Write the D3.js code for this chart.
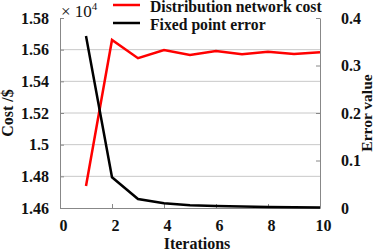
<!DOCTYPE html>
<html>
<head>
<meta charset="utf-8">
<script src="https://cdn.jsdelivr.net/npm/d3@7"></script>
<style>
  body { margin: 0; background: #fff; }
  text { font-family: "Liberation Serif", "Times New Roman", serif; font-weight: bold; }
</style>
</head>
<body>
<div id="chart"></div>
<script>
// data
const iterations = [1, 2, 3, 4, 5, 6, 7, 8, 9, 10];
const networkCost = [1.4739, 1.5661, 1.5546, 1.5598, 1.5567, 1.5592, 1.5571, 1.5587, 1.5573, 1.5583]; // x 10^4
const pointError = [0.362, 0.0646, 0.019, 0.010, 0.006, 0.004, 0.003, 0.002, 0.0015, 0.001];
const xTicks = [0, 2, 4, 6, 8, 10];
const costTicks = [1.46, 1.48, 1.5, 1.52, 1.54, 1.56, 1.58];
const errorTicks = [0, 0.1, 0.2, 0.3, 0.4];
const seriesNames = ["Distribution network cost", "Fixed point error"];

const width = 374, height = 251;
const margin = {top: 18, right: 54, bottom: 43, left: 60};

const svg = d3.select("#chart").append("svg")
    .attr("width", width)
    .attr("height", height);

const x = d3.scaleLinear().domain([0, 10]).range([margin.left, width - margin.right]);
const yCost = d3.scaleLinear().domain([1.46, 1.58]).range([height - margin.bottom, margin.top]);
const yErr = d3.scaleLinear().domain([0, 0.4]).range([height - margin.bottom, margin.top]);

// gridlines
svg.append("g")
    .selectAll("line")
    .data(costTicks.slice(1, -1))
    .join("line")
    .attr("x1", margin.left).attr("x2", width - margin.right)
    .attr("y1", d => yCost(d)).attr("y2", d => yCost(d))
    .attr("stroke", "#c8c8c8").attr("stroke-width", 1);

// axes
const fmtCost = d => d === 1.5 ? "1.5" : d3.format(".2f")(d);
const fmtErr = d => d === 0 ? "0" : d3.format(".1f")(d);

const gx = svg.append("g")
    .attr("transform", `translate(0,${height - margin.bottom})`)
    .call(d3.axisBottom(x).tickValues(xTicks).tickSizeInner(-4).tickSizeOuter(0).tickPadding(12));
const gl = svg.append("g")
    .attr("transform", `translate(${margin.left},0)`)
    .call(d3.axisLeft(yCost).tickValues(costTicks).tickFormat(fmtCost).tickSizeInner(-4).tickSizeOuter(0).tickPadding(11));
const gr = svg.append("g")
    .attr("transform", `translate(${width - margin.right},0)`)
    .call(d3.axisRight(yErr).tickValues(errorTicks).tickFormat(fmtErr).tickSizeInner(-4).tickSizeOuter(0).tickPadding(21));

[gx, gl, gr].forEach(g => {
    g.select(".domain").attr("stroke", "#888");
    g.selectAll(".tick line").attr("stroke", "#888");
    g.selectAll(".tick text")
        .attr("fill", "#111")
        .style("font-size", "16px")
        .style("font-family", "'Liberation Serif', serif")
        .style("font-weight", "bold");
});
gx.selectAll(".tick text").attr("dx", 3);

// lines
const costLine = d3.line().x((d, i) => x(iterations[i])).y(d => yCost(d));
const errLine = d3.line().x((d, i) => x(iterations[i])).y(d => yErr(d));

svg.append("path")
    .datum(networkCost)
    .attr("d", costLine)
    .attr("fill", "none")
    .attr("stroke", "#ff0000")
    .attr("stroke-width", 2.5);

svg.append("path")
    .datum(pointError)
    .attr("d", errLine)
    .attr("fill", "none")
    .attr("stroke", "#000")
    .attr("stroke-width", 2.5);

// exponent label
const expo = svg.append("text")
    .attr("x", 61).attr("y", 17)
    .attr("fill", "#111")
    .style("font-size", "17px")
    .style("font-weight", "normal");
expo.append("tspan").text("× 10");
expo.append("tspan").attr("dy", -7).style("font-size", "11px").text("4");

// legend
const colors = ["#ff0000", "#000"];
const leg = svg.append("g");
seriesNames.forEach((name, i) => {
    const yy = 5 + i * 18;
    leg.append("line")
        .attr("x1", 113).attr("x2", 140)
        .attr("y1", yy).attr("y2", yy)
        .attr("stroke", colors[i]).attr("stroke-width", 2.5);
    leg.append("text")
        .attr("x", 150).attr("y", yy + 7)
        .attr("fill", "#111")
        .style("font-size", "15.7px")
        .text(name);
});

// axis titles
svg.append("text")
    .attr("transform", `translate(${x(5) + 7},${height - 2})`)
    .attr("text-anchor", "middle")
    .attr("fill", "#111")
    .style("font-size", "16px")
    .text("Iterations");

svg.append("text")
    .attr("transform", `translate(13,${(margin.top + height - margin.bottom) / 2}) rotate(-90)`)
    .attr("text-anchor", "middle")
    .attr("fill", "#111")
    .style("font-size", "16px")
    .text("Cost /$");

svg.append("text")
    .attr("transform", `translate(372,${(margin.top + height - margin.bottom) / 2}) rotate(-90)`)
    .attr("text-anchor", "middle")
    .attr("fill", "#111")
    .style("font-size", "15.5px")
    .text("Error value");
</script>
</body>
</html>
